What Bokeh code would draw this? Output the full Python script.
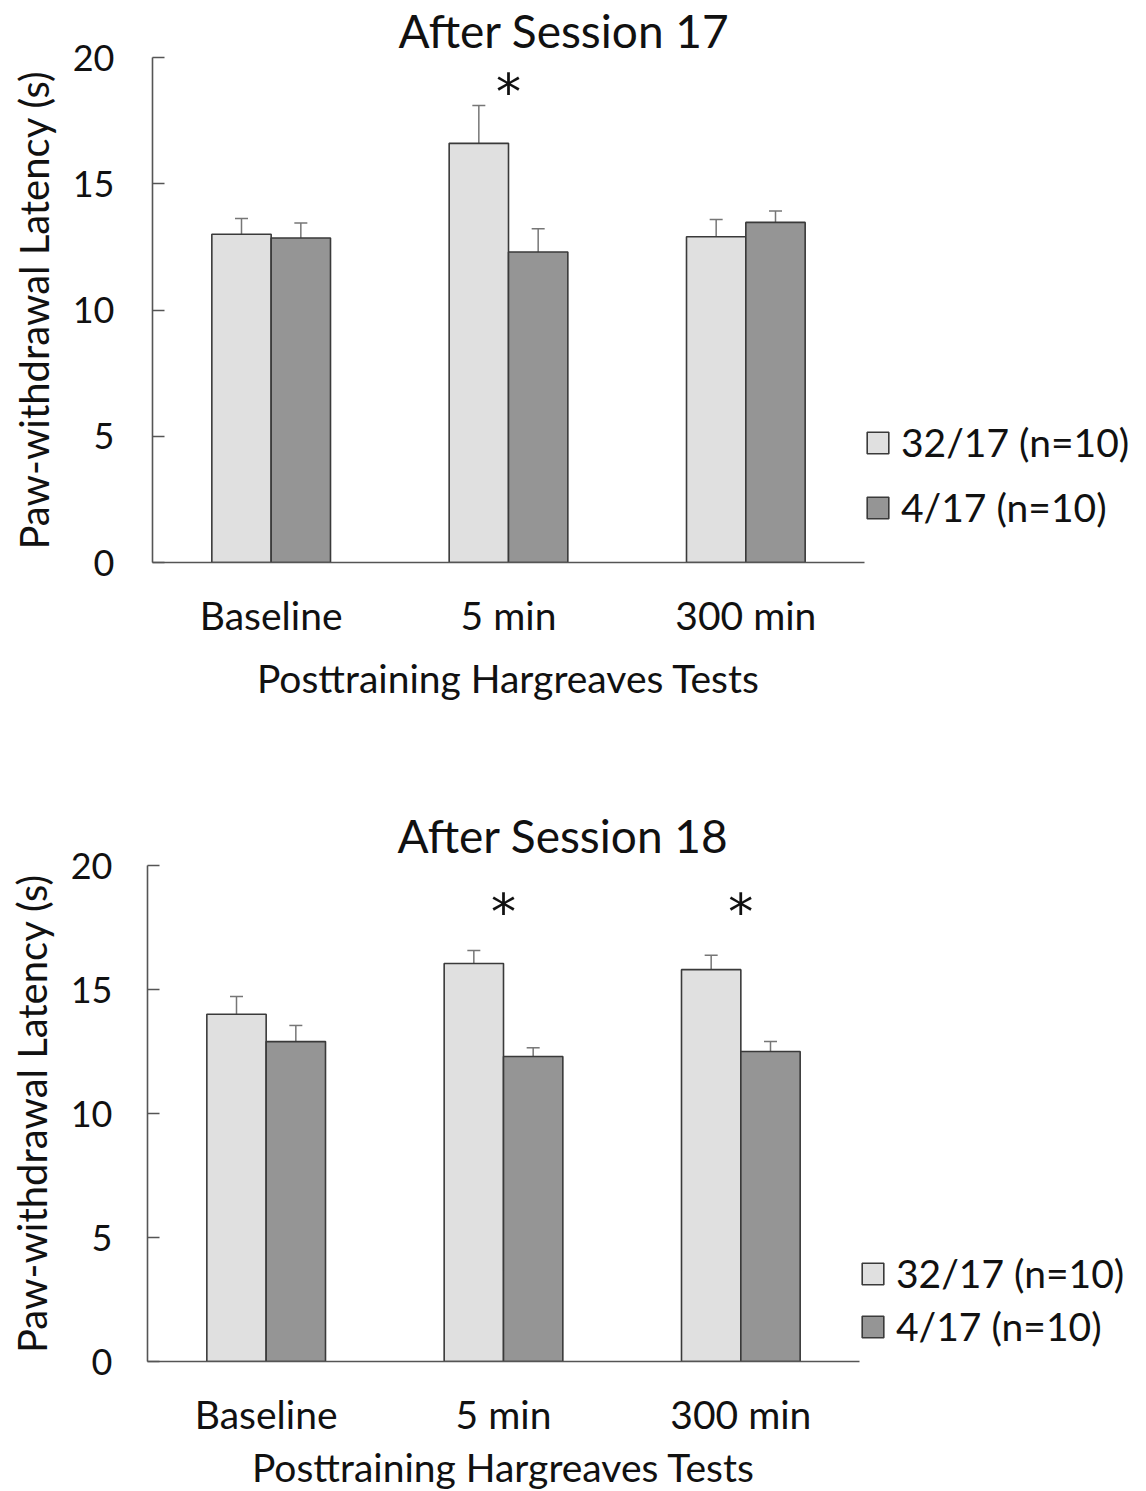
from bokeh.plotting import figure
from bokeh.models import (ColumnDataSource, FactorRange, Whisker, Legend, LegendItem,
                          Title, TeeHead, FixedTicker)
from bokeh.transform import dodge
from bokeh.embed import file_html
from bokeh.resources import INLINE
from bokeh.core.properties import value

# ---------------- data ----------------
tests = ["Baseline", "5 min", "300 min"]
group_labels = ["32/17 (n=10)", "4/17 (n=10)"]

s17_warm = [13.0, 16.6, 12.9]
s17_warm_sem = [0.62, 1.5, 0.68]
s17_cold = [12.85, 12.3, 13.47]
s17_cold_sem = [0.6, 0.92, 0.45]
s17_sig = ["", "*", ""]

s18_warm = [14.0, 16.05, 15.8]
s18_warm_sem = [0.72, 0.52, 0.58]
s18_cold = [12.9, 12.3, 12.5]
s18_cold_sem = [0.65, 0.35, 0.4]
s18_sig = ["", "*", "*"]

yticks = [0, 5, 10, 15, 20]

FONT = "Lato"
LIGHT = "#e0e0e0"
DARK = "#959595"
EDGE = "#3a3a3a"
ERR = "#767676"
TXT = "#111111"


def make_chart(title, warm, warm_sem, cold, cold_sem, sig, sig_y, *,
               left_pad, top, frame_h, bottom, legend_x, legend_y, legend_spacing,
               xtick_standoff, xlabel_standoff, ytick_standoff, title_offset,
               title_standoff):
    src = ColumnDataSource(dict(
        test=tests, warm=warm, cold=cold,
        warm_lo=[v - e for v, e in zip(warm, warm_sem)],
        warm_hi=[v + e for v, e in zip(warm, warm_sem)],
        cold_lo=[v - e for v, e in zip(cold, cold_sem)],
        cold_hi=[v + e for v, e in zip(cold, cold_sem)],
        sig=sig, sig_y=[sig_y] * len(tests),
    ))
    p = figure(x_range=FactorRange(*tests), y_range=(0, 20),
               frame_width=712, frame_height=frame_h, output_backend="svg",
               toolbar_location=None, min_border_left=0,
               min_border_top=top, min_border_right=0,
               min_border_bottom=bottom)
    p.outline_line_color = None
    p.grid.grid_line_color = None
    p.background_fill_color = "white"

    w = 0.25
    r1 = p.vbar(x=dodge("test", -0.125, range=p.x_range), top="warm", width=w,
                source=src, fill_color=LIGHT, line_color=EDGE, line_width=1.6)
    r2 = p.vbar(x=dodge("test", 0.125, range=p.x_range), top="cold", width=w,
                source=src, fill_color=DARK, line_color=EDGE, line_width=1.6)
    for xo, lo, hi in ((-0.125, "warm_lo", "warm_hi"), (0.125, "cold_lo", "cold_hi")):
        wk = Whisker(base=dodge("test", xo, range=p.x_range), lower=lo, upper=hi,
                     source=src, line_color=ERR, line_width=1.5,
                     upper_head=TeeHead(size=13, line_color=ERR, line_width=1.5),
                     lower_head=TeeHead(size=13, line_color=ERR, line_width=1.5))
        p.add_layout(wk)
    p.text(x="test", y="sig_y", text="sig", source=src, text_align="center",
           text_baseline="middle", text_font=value("DejaVu Sans"),
           text_font_size="50px", y_offset=7, text_color=TXT)

    # axes
    p.yaxis.ticker = FixedTicker(ticks=yticks)
    p.yaxis.axis_label = "Paw-withdrawal Latency (s)"
    p.xaxis.axis_label = "Posttraining Hargreaves Tests"
    for ax in (p.xaxis[0], p.yaxis[0]):
        ax.axis_line_color = "#555555"
        ax.axis_line_width = 1.6
        ax.major_label_text_font = FONT
        ax.axis_label_text_font = FONT
        ax.axis_label_text_font_style = "normal"
        ax.major_label_text_color = TXT
        ax.axis_label_text_color = TXT
        ax.minor_tick_line_color = None
    p.yaxis.major_tick_line_color = "#555555"
    p.yaxis.major_tick_line_width = 1.6
    p.yaxis.major_tick_in = 12
    p.yaxis.major_tick_out = 0
    p.xaxis.major_tick_line_color = None
    p.xaxis.major_tick_in = 0
    p.xaxis.major_tick_out = 0
    p.yaxis.major_label_text_font_size = "36px"
    p.xaxis.major_label_text_font_size = "39px"
    p.yaxis.axis_label_text_font_size = "40px"
    p.xaxis.axis_label_text_font_size = "39px"
    p.yaxis.major_label_standoff = ytick_standoff
    p.yaxis.axis_label_standoff = 12
    p.xaxis.major_label_standoff = xtick_standoff
    p.xaxis.axis_label_standoff = xlabel_standoff

    # blank spacer at the far left (pushes the frame right)
    p.add_layout(Title(text=" ", text_font_size="1px", standoff=left_pad), "left")

    # title
    p.title = Title(text=title, align="left", offset=title_offset,
                    text_font=FONT, text_font_size="46px", text_font_style="normal",
                    text_color=TXT, standoff=title_standoff, text_line_height=1.0)

    # legend
    legend = Legend(items=[LegendItem(label=group_labels[0], renderers=[r1]),
                           LegendItem(label=group_labels[1], renderers=[r2])],
                    location=(legend_x, legend_y), orientation="vertical",
                    glyph_width=27, glyph_height=27, label_text_font=FONT,
                    label_text_font_size="39px", label_text_color=TXT,
                    label_standoff=10, spacing=legend_spacing, padding=0, margin=0,
                    border_line_color=None, background_fill_alpha=0)
    p.add_layout(legend, "right")
    return p


p1 = make_chart("After Session 17", s17_warm, s17_warm_sem, s17_cold, s17_cold_sem,
                s17_sig, 18.9, left_pad=3, top=0, frame_h=505, bottom=177,
                legend_x=0, legend_y=32, legend_spacing=19, xtick_standoff=29,
                xlabel_standoff=14, ytick_standoff=38, title_offset=246,
                title_standoff=0)
p2 = make_chart("After Session 18", s18_warm, s18_warm_sem, s18_cold, s18_cold_sem,
                s18_sig, 18.4, left_pad=1, top=126, frame_h=496, bottom=129,
                legend_x=0, legend_y=12, legend_spacing=7, xtick_standoff=29,
                xlabel_standoff=4, ytick_standoff=35, title_offset=250,
                title_standoff=6)

open("out.html", "w").write(file_html([p1, p2], INLINE))
